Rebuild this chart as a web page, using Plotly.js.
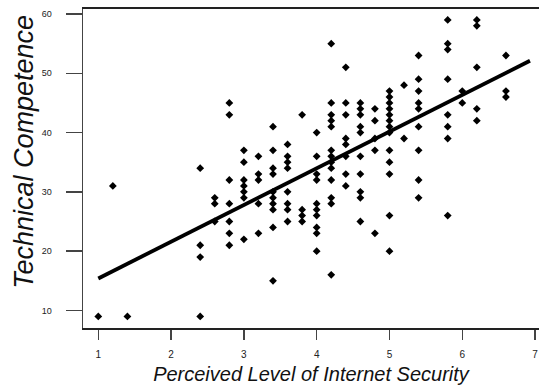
<!DOCTYPE html>
<html>
<head>
<meta charset="utf-8">
<script src="https://cdn.plot.ly/plotly-3.0.1.min.js"></script>
<style>html,body{margin:0;padding:0;background:#fff;}#chart{width:539px;height:387px;}</style>
</head>
<body>
<div id="chart"></div>
<script>
// Perceived level of Internet security (x) and technical competence (y)
const securityX = [
  1,
  1.2,
  1.4,
  2.4, 2.4, 2.4, 2.4,
  2.6, 2.6, 2.6,
  2.8, 2.8, 2.8, 2.8, 2.8, 2.8, 2.8,
  3.0, 3.0, 3.0, 3.0, 3.0, 3.0, 3.0,
  3.2, 3.2, 3.2, 3.2, 3.2,
  3.4, 3.4, 3.4, 3.4, 3.4, 3.4, 3.4, 3.4, 3.4, 3.4,
  3.6, 3.6, 3.6, 3.6, 3.6, 3.6, 3.6, 3.6,
  3.8, 3.8, 3.8, 3.8,
  4.0, 4.0, 4.0, 4.0, 4.0, 4.0, 4.0, 4.0, 4.0, 4.0,
  4.2, 4.2, 4.2, 4.2, 4.2, 4.2, 4.2, 4.2, 4.2, 4.2, 4.2, 4.2, 4.2,
  4.4, 4.4, 4.4, 4.4, 4.4, 4.4, 4.4, 4.4,
  4.6, 4.6, 4.6, 4.6, 4.6, 4.6, 4.6, 4.6, 4.6, 4.6,
  4.8, 4.8, 4.8, 4.8, 4.8,
  5.0, 5.0, 5.0, 5.0, 5.0, 5.0, 5.0, 5.0, 5.0, 5.0, 5.0, 5.0, 5.0,
  5.2, 5.2,
  5.4, 5.4, 5.4, 5.4, 5.4, 5.4, 5.4, 5.4, 5.4,
  5.8, 5.8, 5.8, 5.8, 5.8, 5.8, 5.8, 5.8,
  6.0, 6.0,
  6.2, 6.2, 6.2, 6.2, 6.2,
  6.6, 6.6, 6.6
];
const competenceY = [
  9,
  31,
  9,
  34, 21, 19, 9,
  29, 28, 25,
  45, 43, 32, 28, 25, 23, 21,
  37, 35, 32, 31, 30, 29, 22,
  36, 33, 32, 28, 23,
  41, 37, 34, 33, 30, 29, 28, 27, 24, 15,
  38, 36, 35, 34, 30, 28, 27, 25,
  43, 27, 26, 25,
  40, 36, 33, 32, 28, 27, 26, 24, 23, 20,
  55, 45, 43, 42, 41, 37, 36, 35, 34, 32, 29, 28, 16,
  51, 45, 43, 39, 38, 36, 33, 31,
  45, 44, 43, 41, 40, 36, 33, 30, 29, 25,
  44, 42, 39, 37, 23,
  47, 46, 45, 44, 43, 42, 41, 40, 37, 35, 33, 26, 20,
  48, 39,
  53, 49, 47, 45, 44, 41, 37, 32, 29,
  59, 55, 54, 49, 43, 41, 39, 26,
  47, 45,
  59, 58, 51, 44, 42,
  53, 47, 46
];
// Fitted regression line end points
const fitX = [1, 6.93];
const fitY = [15.4, 52.1];

const xTicks = [1, 2, 3, 4, 5, 6, 7];
const yTicks = [10, 20, 30, 40, 50, 60];

const xTitle = 'Perceived Level of Internet Security';
const yTitle = 'Technical Competence';

const data = [
  {
    x: securityX, y: competenceY, type: 'scatter', mode: 'markers',
    marker: {symbol: 'diamond', size: 6, color: '#000'},
    hoverinfo: 'x+y', showlegend: false
  },
  {
    x: fitX, y: fitY, type: 'scatter', mode: 'lines',
    line: {color: '#000', width: 3.8},
    hoverinfo: 'skip', showlegend: false
  }
];

const layout = {
  width: 539, height: 387,
  margin: {l: 83, r: 0, t: 9, b: 59, pad: 0},
  paper_bgcolor: '#fff', plot_bgcolor: '#fff',
  showlegend: false,
  font: {family: 'Liberation Sans, Arial, sans-serif', color: '#222'},
  xaxis: {
    range: [0.79, 7.054],
    tickvals: xTicks, ticktext: xTicks.map(String),
    ticks: 'outside', ticklen: 10, tickwidth: 1.5, tickcolor: '#444',
    ticklabelstandoff: 6,
    showgrid: false, zeroline: false,
    showline: true, linecolor: '#222', linewidth: 2, mirror: true,
    tickfont: {size: 10, color: '#222'},
    title: {text: xTitle, font: {size: 20, color: '#111', family: 'Liberation Sans, Arial, sans-serif', style: 'italic'}, standoff: 8}
  },
  yaxis: {
    range: [7.04, 60.84],
    tickvals: yTicks, ticktext: yTicks.map(String),
    ticks: 'outside', ticklen: 16, tickwidth: 1.5, tickcolor: '#444',
    ticklabelstandoff: 12,
    showgrid: false, zeroline: false,
    showline: true, linecolor: '#444', linewidth: 1.5,
    tickfont: {size: 9, color: '#222'}
  },
  annotations: [{
    text: yTitle, xref: 'paper', yref: 'paper',
    x: -0.13, y: 0.552, xanchor: 'center', yanchor: 'middle',
    textangle: -90, showarrow: false,
    font: {size: 27, color: '#111', family: 'Liberation Sans, Arial, sans-serif', style: 'italic'}
  }]
};

Plotly.newPlot('chart', data, layout, {displayModeBar: false, staticPlot: true});
</script>
</body>
</html>
